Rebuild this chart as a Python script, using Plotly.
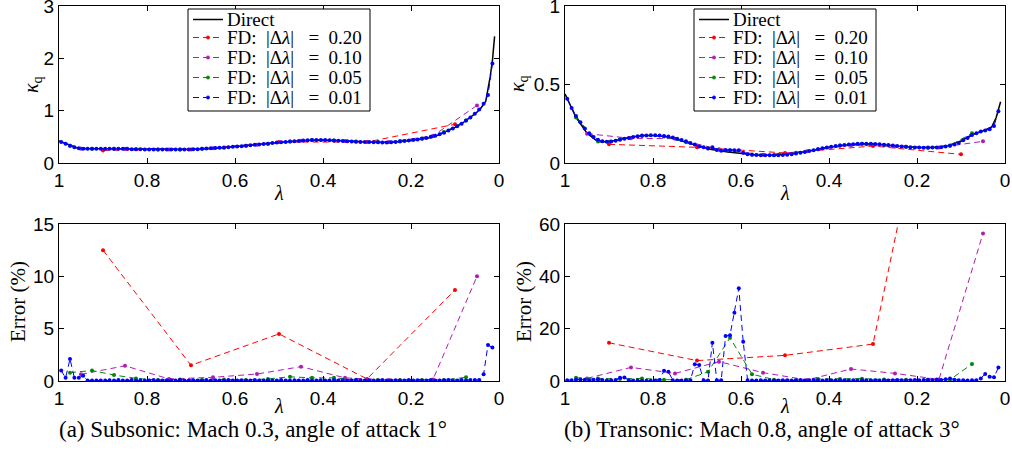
import plotly.graph_objects as go

# ---------------- DATA ----------------
# lambda grids of the finite-difference series (midpoints of each step)
lam_fd20 = [0.9, 0.7, 0.5, 0.3, 0.1]
lam_fd10 = [0.95, 0.85, 0.75, 0.65, 0.55, 0.45, 0.35, 0.25, 0.15, 0.05]
lam_fd05 = [0.975, 0.925, 0.875, 0.825, 0.775, 0.725, 0.675, 0.625, 0.575, 0.525,
            0.475, 0.425, 0.375, 0.325, 0.275, 0.225, 0.175, 0.125, 0.075]
lam_fd01 = [round(0.995 - 0.01 * i, 3) for i in range(99)]

# ---- (a) Subsonic ----
lam_direct_sub = [1.0, 0.98, 0.96, 0.95, 0.9, 0.85, 0.8, 0.75, 0.7, 0.65, 0.6, 0.55, 0.5, 0.45,
                  0.4, 0.35, 0.3, 0.25, 0.2, 0.15, 0.1, 0.08, 0.06, 0.05, 0.04, 0.03, 0.02, 0.015, 0.01]
kappa_direct_sub = [0.42, 0.35, 0.29, 0.275, 0.27, 0.27, 0.26, 0.26, 0.26, 0.275, 0.31, 0.35, 0.39, 0.43,
                    0.44, 0.425, 0.40, 0.39, 0.43, 0.49, 0.68, 0.78, 0.90, 0.97, 1.06, 1.18, 1.65, 1.95, 2.42]
kappa_fd20_sub = [0.24, 0.26, 0.40, 0.40, 0.74]
kappa_fd10_sub = [0.27, 0.27, 0.26, 0.28, 0.35, 0.425, 0.42, 0.40, 0.52, 1.10]
kappa_fd05_sub = [0.33, 0.27, 0.27, 0.265, 0.26, 0.26, 0.27, 0.29, 0.33, 0.37,
                  0.41, 0.44, 0.43, 0.41, 0.40, 0.42, 0.47, 0.59, 0.81]
kappa_fd01_sub = [0.40, 0.37, 0.33, 0.30, 0.28, 0.27, 0.27, 0.27, 0.27, 0.27,
                  0.27, 0.27, 0.27, 0.27, 0.27, 0.27, 0.265, 0.265, 0.265, 0.26,
                  0.26, 0.26, 0.26, 0.26, 0.26, 0.26, 0.26, 0.26, 0.26, 0.26,
                  0.265, 0.265, 0.27, 0.275, 0.28, 0.285, 0.29, 0.295, 0.30, 0.31,
                  0.315, 0.32, 0.33, 0.34, 0.35, 0.355, 0.365, 0.37, 0.38, 0.39,
                  0.395, 0.40, 0.41, 0.415, 0.42, 0.43, 0.435, 0.44, 0.44, 0.44,
                  0.44, 0.435, 0.43, 0.425, 0.42, 0.415, 0.41, 0.405, 0.40, 0.40,
                  0.40, 0.395, 0.395, 0.39, 0.39, 0.395, 0.40, 0.41, 0.42, 0.43,
                  0.44, 0.45, 0.465, 0.48, 0.50, 0.52, 0.55, 0.58, 0.62, 0.66,
                  0.70, 0.75, 0.81, 0.87, 0.94, 1.02, 1.13, 1.30, 1.90]
err_fd20_sub = [12.5, 1.5, 4.5, 0.2, 8.7]
err_fd10_sub = [0.64, 1.45, 0.2, 0.35, 0.67, 1.37, 0.3, 0.1, 0.15, 10.0]
err_fd05_sub = [0.8, 1.0, 0.57, 0.25, 0.1, 0.15, 0.1, 0.15, 0.1, 0.2,
                0.4, 0.3, 0.3, 0.1, 0.1, 0.1, 0.1, 0.1, 0.35]
err_fd01_sub = [1.0, 0.3, 2.1, 0.3, 0.3, 0.5, 0.05, 0.05, 0.05, 0.05,
                0.05, 0.08, 0.05, 0.1, 0.05, 0.05, 0.1, 0.05, 0.08, 0.05,
                0.05, 0.1, 0.05, 0.05, 0.08, 0.05, 0.05, 0.1, 0.05, 0.05,
                0.08, 0.05, 0.05, 0.1, 0.05, 0.08, 0.05, 0.05, 0.1, 0.05,
                0.05, 0.08, 0.05, 0.05, 0.1, 0.05, 0.05, 0.08, 0.05, 0.05,
                0.1, 0.05, 0.05, 0.08, 0.05, 0.05, 0.1, 0.05, 0.05, 0.08,
                0.05, 0.05, 0.1, 0.05, 0.08, 0.05, 0.05, 0.1, 0.05, 0.05,
                0.08, 0.05, 0.05, 0.1, 0.05, 0.05, 0.08, 0.05, 0.05, 0.1,
                0.05, 0.08, 0.05, 0.05, 0.1, 0.05, 0.05, 0.08, 0.1, 0.05,
                0.05, 0.1, 0.05, 0.1, 0.1, 0.1, 0.65, 3.45, 3.2]

# ---- (b) Transonic ----
lam_direct_tra = [1.0, 0.99, 0.98, 0.975, 0.95, 0.925, 0.9, 0.875, 0.85, 0.82, 0.8, 0.77, 0.74, 0.7,
                  0.67, 0.63, 0.6, 0.56, 0.53, 0.5, 0.45, 0.4, 0.35, 0.32, 0.3, 0.25, 0.2, 0.16,
                  0.13, 0.1, 0.075, 0.05, 0.04, 0.03, 0.02, 0.01]
kappa_direct_tra = [0.44, 0.38, 0.32, 0.29, 0.19, 0.135, 0.135, 0.15, 0.165, 0.175, 0.175, 0.168, 0.145, 0.11,
                    0.088, 0.07, 0.06, 0.05, 0.05, 0.055, 0.075, 0.10, 0.118, 0.123, 0.122, 0.108, 0.099, 0.099,
                    0.11, 0.14, 0.18, 0.205, 0.215, 0.23, 0.29, 0.39]
kappa_fd20_tra = [0.119, 0.10, 0.064, 0.108, 0.055]
kappa_fd10_tra = [0.187, 0.157, 0.155, 0.087, 0.052, 0.075, 0.113, 0.105, 0.099, 0.138]
kappa_fd05_tra = [0.29, 0.137, 0.151, 0.175, 0.169, 0.132, 0.094, 0.082, 0.054, 0.05,
                  0.065, 0.088, 0.112, 0.123, 0.115, 0.103, 0.098, 0.112, 0.19]
kappa_fd01_tra = [0.41, 0.35, 0.30, 0.26, 0.22, 0.19, 0.165, 0.148, 0.138, 0.135,
                  0.137, 0.142, 0.148, 0.155, 0.16, 0.165, 0.17, 0.173, 0.175, 0.176,
                  0.176, 0.175, 0.172, 0.168, 0.162, 0.155, 0.147, 0.138, 0.128, 0.118,
                  0.105, 0.10, 0.093, 0.10, 0.083, 0.078, 0.083, 0.081, 0.082, 0.082,
                  0.066, 0.056, 0.053, 0.051, 0.05, 0.049, 0.049, 0.049, 0.05, 0.051,
                  0.053, 0.056, 0.06, 0.065, 0.07, 0.076, 0.082, 0.088, 0.094, 0.099,
                  0.104, 0.108, 0.112, 0.115, 0.118, 0.12, 0.122, 0.123, 0.123, 0.122,
                  0.121, 0.119, 0.117, 0.114, 0.111, 0.108, 0.105, 0.103, 0.101, 0.099,
                  0.098, 0.097, 0.097, 0.098, 0.099, 0.101, 0.105, 0.11, 0.118, 0.128,
                  0.145, 0.16, 0.178, 0.19, 0.2, 0.207, 0.215, 0.235, 0.33]
err_fd20_tra = [14.6, 7.8, 9.8, 14.1, 175.0]
err_fd10_tra = [1.0, 5.2, 2.9, 7.4, 3.2, 0.4, 4.6, 2.9, 0.6, 56.4]
err_fd05_tra = [1.2, 1.0, 0.8, 1.0, 0.5, 0.5, 3.5, 16.5, 2.6, 0.5,
                0.3, 0.8, 0.8, 0.9, 0.6, 0.5, 0.5, 0.5, 6.5]
err_fd01_tra = [0.3, 0.3, 0.5, 0.6, 0.5, 0.3, 0.5, 0.6, 0.4, 0.2,
                0.3, 0.4, 1.2, 1.3, 0.3, 0.2, 0.2, 0.1, 0.1, 0.1,
                0.2, 0.4, 3.9, 3.5, 0.3, 0.2, 0.2, 0.3, 0.3, 6.4,
                6.1, 0.3, 0.2, 14.6, 0.3, 0.3, 17.2, 17.5, 26.1, 35.4,
                15.0, 0.3, 0.2, 0.2, 0.3, 0.2, 0.3, 0.2, 0.2, 0.3,
                0.3, 0.2, 0.3, 0.4, 0.2, 0.3, 0.4, 0.3, 0.2, 0.3,
                0.3, 0.2, 0.3, 0.3, 0.2, 0.3, 0.2, 0.3, 0.2, 0.3,
                0.3, 0.2, 0.3, 0.2, 0.3, 0.4, 0.3, 0.2, 0.3, 0.4,
                0.3, 0.4, 0.5, 0.3, 0.6, 0.4, 0.7, 1.0, 0.5, 0.3,
                0.3, 0.2, 0.3, 0.3, 1.0, 2.7, 1.6, 1.4, 5.2]

x_tickvals = [1, 0.8, 0.6, 0.4, 0.2, 0]
x_ticktext = ["1", "0.8", "0.6", "0.4", "0.2", "0"]

legend_labels = ["Direct",
                 "FD:&nbsp; |Δ<i>λ</i>|&nbsp;&nbsp; = &nbsp;0.20",
                 "FD:&nbsp; |Δ<i>λ</i>|&nbsp;&nbsp; = &nbsp;0.10",
                 "FD:&nbsp; |Δ<i>λ</i>|&nbsp;&nbsp; = &nbsp;0.05",
                 "FD:&nbsp; |Δ<i>λ</i>|&nbsp;&nbsp; = &nbsp;0.01"]
series_names = ["FD 0.20", "FD 0.10", "FD 0.05", "FD 0.01"]
series_colors = ["#ff0000", "#b01cb0", "#008a00", "#0000ff"]
fd_lams = [lam_fd20, lam_fd10, lam_fd05, lam_fd01]

# ---------------- FIGURE ----------------
W, H = 1012, 474
DASH = "6px,4px"
fig = go.Figure()


def add_panel(xa, ya, direct, fds):
    if direct is not None:
        fig.add_trace(go.Scatter(x=direct[0], y=direct[1], mode="lines", name="Direct",
                                 line=dict(color="black", width=1.5),
                                 xaxis=xa, yaxis=ya, showlegend=False))
    for lam, vals, nm, col in zip(fd_lams, fds, series_names, series_colors):
        fig.add_trace(go.Scatter(x=lam, y=vals, mode="lines+markers", name=nm,
                                 line=dict(color=col, width=1, dash=DASH),
                                 marker=dict(color=col, size=4),
                                 xaxis=xa, yaxis=ya, showlegend=False))


add_panel("x", "y", (lam_direct_sub, kappa_direct_sub),
          [kappa_fd20_sub, kappa_fd10_sub, kappa_fd05_sub, kappa_fd01_sub])
add_panel("x2", "y2", (lam_direct_tra, kappa_direct_tra),
          [kappa_fd20_tra, kappa_fd10_tra, kappa_fd05_tra, kappa_fd01_tra])
add_panel("x3", "y3", None, [err_fd20_sub, err_fd10_sub, err_fd05_sub, err_fd01_sub])
add_panel("x4", "y4", None, [err_fd20_tra, err_fd10_tra, err_fd05_tra, err_fd01_tra])

tickfont = dict(family="Liberation Sans, Arial, sans-serif", size=19, color="black")
base = dict(showline=True, linecolor="black", linewidth=1, mirror="ticks", ticks="inside",
            ticklen=5, tickcolor="black", tickwidth=1, showgrid=False, zeroline=False,
            tickfont=tickfont, fixedrange=True, automargin=False, ticklabeloverflow="allow")


def px(x):
    return x / W


def py(y):
    return 1 - y / H


xl = [px(59), px(499)]
xr = [px(565), px(1005)]
yt = [py(163), py(6)]
yb = [py(381), py(224)]

xax = dict(base, range=[1, 0], tickvals=x_tickvals, ticktext=x_ticktext)
fig.update_layout(
    width=W, height=H, margin=dict(l=0, r=0, t=0, b=0, autoexpand=False),
    paper_bgcolor="white", plot_bgcolor="white", showlegend=False,
    xaxis=dict(xax, domain=xl, anchor="y"),
    yaxis=dict(base, domain=yt, anchor="x", range=[0, 3], tickvals=[0, 1, 2, 3]),
    xaxis2=dict(xax, domain=xr, anchor="y2"),
    yaxis2=dict(base, domain=yt, anchor="x2", range=[0, 1], tickvals=[0, 0.5, 1],
                ticktext=["0", "0.5", "1"]),
    xaxis3=dict(xax, domain=xl, anchor="y3"),
    yaxis3=dict(base, domain=yb, anchor="x3", range=[0, 15], tickvals=[0, 5, 10, 15]),
    xaxis4=dict(xax, domain=xr, anchor="y4"),
    yaxis4=dict(base, domain=yb, anchor="x4", range=[0, 60], tickvals=[0, 20, 40, 60]),
)

serif = "Liberation Serif, Times New Roman, serif"

# ---- legend boxes (drawn as layout decorations) ----
shapes = []
ann = []
row_y = [19.5, 37.5, 57.5, 77.5, 97.5]
row_colors = ["black"] + series_colors
for dx in [0, 506]:
    shapes.append(dict(type="rect", xref="paper", yref="paper", layer="above",
                       x0=px(188 + dx), x1=px(370 + dx), y0=py(111), y1=py(9),
                       line=dict(color="black", width=1), fillcolor="white"))
    for i, (lbl, col) in enumerate(zip(legend_labels, row_colors)):
        yy = py(row_y[i])
        shapes.append(dict(type="line", xref="paper", yref="paper", layer="above",
                           x0=px(193 + dx), x1=px(223 + dx), y0=yy, y1=yy,
                           line=dict(color=col, width=1.5 if i == 0 else 1,
                                     dash="solid" if i == 0 else DASH)))
        if i > 0:
            shapes.append(dict(type="circle", xref="paper", yref="paper", layer="above",
                               x0=px(206.5 + dx), x1=px(209.5 + dx),
                               y0=py(row_y[i] + 1.5), y1=py(row_y[i] - 1.5),
                               line=dict(color=col, width=1), fillcolor=col))
        ann.append(dict(text=lbl, x=px(225 + dx), y=yy, xref="paper", yref="paper",
                        showarrow=False, xanchor="left", yanchor="middle",
                        font=dict(family=serif, size=19, color="black")))

# ---- axis titles and captions ----
for cx in [(xl[0] + xl[1]) / 2, (xr[0] + xr[1]) / 2]:
    for ypx in [193, 406]:
        ann.append(dict(text="<i>λ</i>", x=cx, y=py(ypx), xref="paper", yref="paper",
                        showarrow=False, xanchor="center", yanchor="middle",
                        font=dict(family=serif, size=20, color="black")))
for xpx in [32, 518]:
    ann.append(dict(text="<i>κ</i><sub>q</sub>", x=px(xpx), y=py(84), xref="paper",
                    yref="paper", showarrow=False, textangle=-90, xanchor="center",
                    yanchor="middle", font=dict(family=serif, size=20, color="black")))
for xpx in [18, 524]:
    ann.append(dict(text="Error (%)", x=px(xpx), y=py(302), xref="paper", yref="paper",
                    showarrow=False, textangle=-90, xanchor="center", yanchor="middle",
                    font=dict(family=serif, size=21, color="black")))
ann.append(dict(text="(a) Subsonic: Mach 0.3, angle of attack 1°", x=px(253), y=py(429),
                xref="paper", yref="paper", showarrow=False, xanchor="center", yanchor="middle",
                font=dict(family=serif, size=23, color="black")))
ann.append(dict(text="(b) Transonic: Mach 0.8, angle of attack 3°", x=px(762), y=py(429),
                xref="paper", yref="paper", showarrow=False, xanchor="center", yanchor="middle",
                font=dict(family=serif, size=23, color="black")))
fig.update_layout(annotations=ann, shapes=shapes)

fig.write_html("out.html", config={"displayModeBar": False, "staticPlot": True},
               post_script="document.body.style.margin='0';document.body.style.overflow='hidden';")
